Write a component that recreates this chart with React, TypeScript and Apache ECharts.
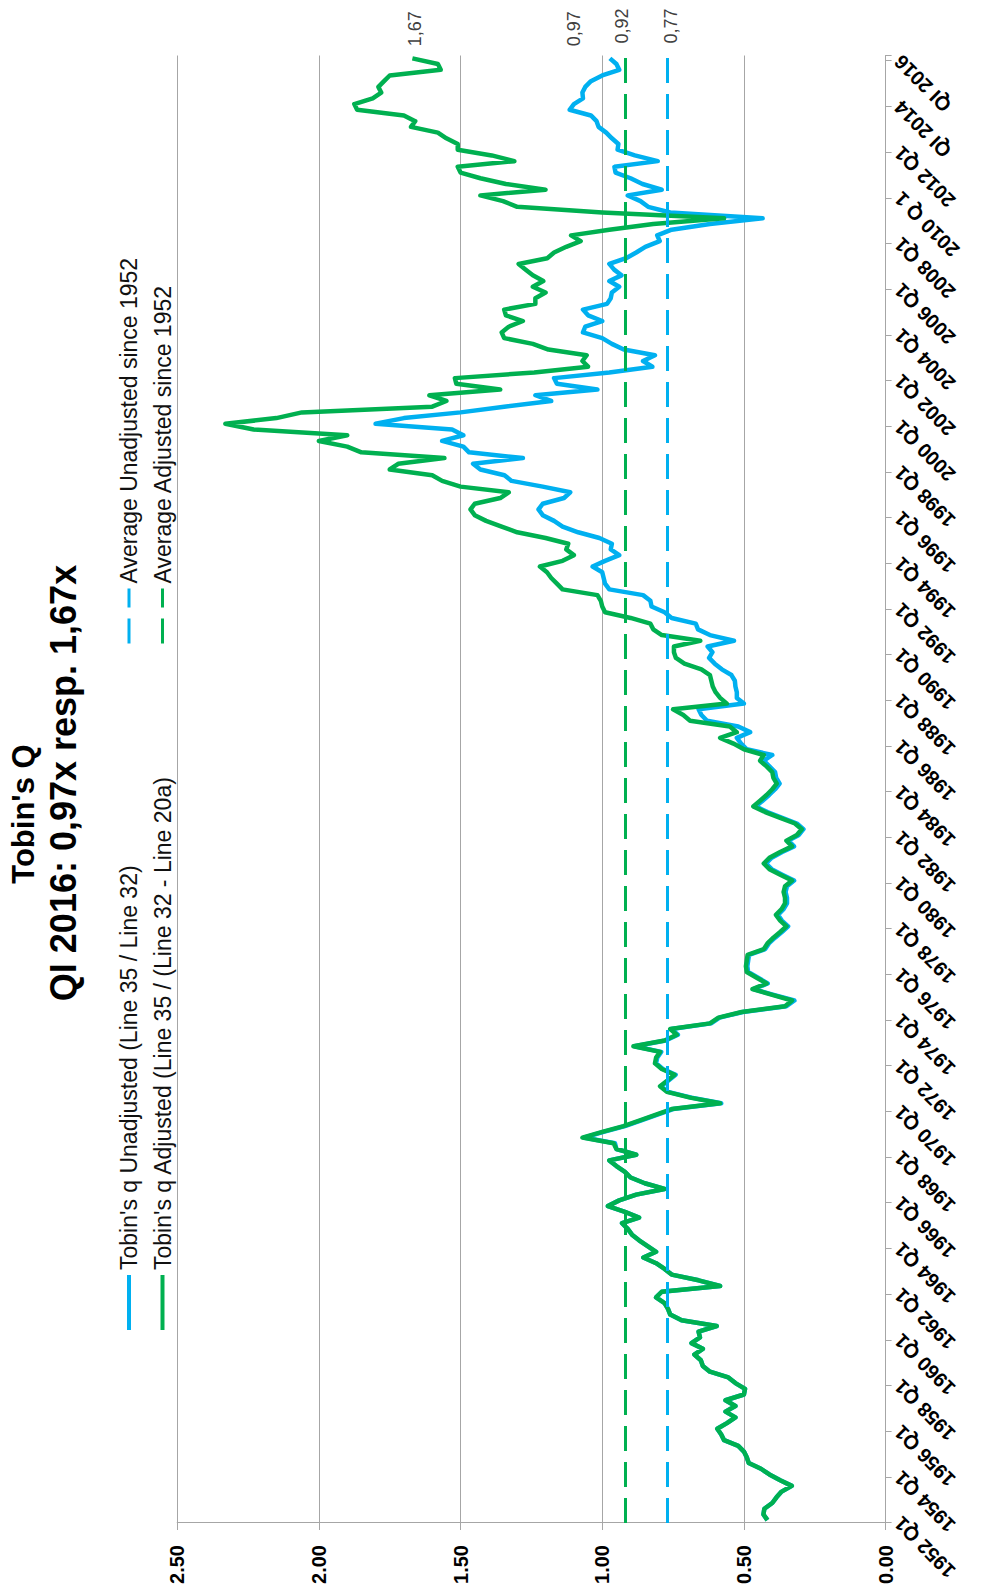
import React, { useEffect, useRef } from 'react';
import * as echarts from 'echarts';

const FONT = '"Liberation Sans", Arial, Helvetica, sans-serif';
const BLUE = '#00B0F0';
const GREEN = '#00B050';
const GRID_GRAY = '#A6A6A6';

const TITLE_1 = "Tobin's Q";
const TITLE_2 = 'QI 2016: 0,97x resp. 1,67x';

const NAME_UNADJ = "Tobin's q Unadjusted (Line 35 / Line 32)";
const NAME_ADJ = "Tobin's q Adjusted (Line 35 / (Line 32 - Line 20a)";
const NAME_AVG_UNADJ = 'Average Unadjusted since 1952';
const NAME_AVG_ADJ = 'Average Adjusted since 1952';

// Labels shown every 8th quarter (every two years)
const TICK_LABELS = [
  '1952 Q1', '1954 Q1', '1956 Q1', '1958 Q1', '1960 Q1', '1962 Q1', '1964 Q1', '1966 Q1',
  '1968 Q1', '1970 Q1', '1972 Q1', '1974 Q1', '1976 Q1', '1978 Q1', '1980 Q1', '1982 Q1',
  '1984 Q1', '1986 Q1', '1988 Q1', '1990 Q1', '1992 Q1', '1994 Q1', '1996 Q1', '1998 Q1',
  '2000 Q1', '2002 Q1', '2004 Q1', '2006 Q1', '2008 Q1', '2010 Q 1', '2012 Q1', 'QI 2014',
  'QI 2016',
];

// Quarterly categories 1952 Q1 .. 2016 Q1
const QUARTERS: string[] = [];
for (let y = 1952; y <= 2016; y++) {
  for (let q = 1; q <= 4; q++) {
    if (y === 2016 && q > 1) break;
    QUARTERS.push(`${y} Q${q}`);
  }
}

// Tobin's q Adjusted (green)
const ADJUSTED = [
  0.417, 0.431, 0.428, 0.40, 0.385, 0.367, 0.331, 0.372,
  0.41, 0.44, 0.483, 0.49, 0.50, 0.52, 0.57, 0.58,
  0.594, 0.56, 0.53, 0.565, 0.53, 0.565, 0.50, 0.496,
  0.53, 0.555, 0.62, 0.645, 0.652, 0.675, 0.645, 0.685,
  0.655, 0.66, 0.596, 0.72, 0.76, 0.768, 0.78, 0.81,
  0.79, 0.584, 0.66, 0.755, 0.78, 0.81, 0.855, 0.81,
  0.84, 0.87, 0.895, 0.91, 0.93, 0.87, 0.92, 0.98,
  0.94, 0.88, 0.78, 0.85, 0.90, 0.92, 0.95, 0.975,
  0.88, 0.95, 0.96, 1.07, 1.00, 0.925, 0.867, 0.81,
  0.755, 0.584, 0.69, 0.772, 0.796, 0.77, 0.745, 0.79,
  0.814, 0.81, 0.796, 0.89, 0.78, 0.737, 0.76, 0.62,
  0.59, 0.508, 0.355, 0.33, 0.40, 0.47, 0.42, 0.455,
  0.49, 0.493, 0.49, 0.487, 0.43, 0.417, 0.396, 0.372,
  0.35, 0.372, 0.387, 0.367, 0.355, 0.355, 0.36, 0.355,
  0.33, 0.37, 0.41, 0.43, 0.41, 0.372, 0.33, 0.35,
  0.313, 0.296, 0.32, 0.372, 0.425, 0.467, 0.443, 0.42,
  0.40, 0.384, 0.396, 0.40, 0.42, 0.443, 0.43, 0.50,
  0.537, 0.584, 0.525, 0.55, 0.69, 0.714, 0.75, 0.56,
  0.584, 0.60, 0.61, 0.615, 0.62, 0.65, 0.71, 0.74,
  0.747, 0.747, 0.654, 0.79, 0.82, 0.83, 0.90, 0.99,
  1.0, 1.005, 1.017, 1.14, 1.16, 1.18, 1.195, 1.22,
  1.14, 1.10, 1.127, 1.12, 1.20, 1.30, 1.355, 1.41,
  1.45, 1.465, 1.45, 1.36, 1.33, 1.50, 1.565, 1.60,
  1.75, 1.72, 1.557, 1.85, 1.90, 2.0, 1.90, 2.23,
  2.33, 2.15, 2.06, 1.60, 1.55, 1.61, 1.36, 1.515,
  1.52, 1.24, 1.05, 1.07, 1.055, 1.19, 1.245, 1.346,
  1.355, 1.33, 1.28, 1.34, 1.346, 1.236, 1.236, 1.20,
  1.245, 1.208, 1.245, 1.27, 1.295, 1.194, 1.17, 1.127,
  1.076, 1.11, 0.975, 0.82, 0.57, 1.0, 1.30, 1.35,
  1.43, 1.20, 1.34, 1.43, 1.50, 1.51, 1.31, 1.39,
  1.51, 1.51, 1.55, 1.58, 1.675, 1.66, 1.70, 1.865,
  1.875, 1.81, 1.78, 1.79, 1.77, 1.75, 1.57, 1.58,
  1.67,
];

// Tobin's q Unadjusted (blue)
const UNADJUSTED = [
  0.417, 0.431, 0.428, 0.40, 0.385, 0.367, 0.331, 0.372,
  0.41, 0.44, 0.483, 0.49, 0.50, 0.52, 0.57, 0.58,
  0.594, 0.56, 0.53, 0.565, 0.53, 0.565, 0.50, 0.496,
  0.53, 0.555, 0.62, 0.645, 0.652, 0.675, 0.645, 0.685,
  0.655, 0.66, 0.596, 0.72, 0.76, 0.768, 0.78, 0.81,
  0.79, 0.584, 0.66, 0.755, 0.78, 0.81, 0.855, 0.81,
  0.84, 0.87, 0.895, 0.91, 0.93, 0.87, 0.92, 0.98,
  0.94, 0.88, 0.78, 0.85, 0.90, 0.92, 0.95, 0.975,
  0.88, 0.95, 0.955, 1.065, 0.995, 0.92, 0.862, 0.805,
  0.75, 0.58, 0.685, 0.768, 0.792, 0.766, 0.741, 0.786,
  0.81, 0.806, 0.792, 0.886, 0.776, 0.733, 0.756, 0.616,
  0.586, 0.504, 0.35, 0.322, 0.395, 0.466, 0.416, 0.45,
  0.485, 0.488, 0.485, 0.482, 0.425, 0.412, 0.39, 0.366,
  0.344, 0.366, 0.38, 0.36, 0.348, 0.348, 0.353, 0.348,
  0.323, 0.363, 0.402, 0.422, 0.402, 0.365, 0.323, 0.343,
  0.306, 0.29, 0.313, 0.365, 0.417, 0.458, 0.434, 0.411,
  0.39, 0.374, 0.386, 0.39, 0.41, 0.43, 0.40, 0.49,
  0.51, 0.525, 0.478, 0.52, 0.63, 0.65, 0.66, 0.50,
  0.525, 0.525, 0.53, 0.532, 0.544, 0.578, 0.603, 0.623,
  0.611, 0.628, 0.535, 0.62, 0.662, 0.67, 0.755, 0.78,
  0.826, 0.83, 0.856, 0.975, 0.99, 0.995, 1.0, 1.034,
  0.99, 0.94, 0.97, 0.966, 1.01, 1.085, 1.14, 1.17,
  1.21, 1.225, 1.21, 1.135, 1.113, 1.21, 1.32, 1.345,
  1.43, 1.456, 1.28, 1.47, 1.49, 1.565, 1.49, 1.53,
  1.80, 1.70, 1.50, 1.346, 1.18, 1.236, 1.017, 1.16,
  1.17, 0.975, 0.823, 0.856, 0.814, 0.924, 0.966, 1.0,
  1.068, 1.06, 1.0, 1.05, 1.068, 0.983, 0.97, 0.966,
  0.94, 0.975, 0.932, 0.958, 0.975, 0.916, 0.88, 0.848,
  0.797, 0.806, 0.755, 0.62, 0.434, 0.76, 0.838, 0.865,
  0.91, 0.79, 0.858, 0.90, 0.953, 0.957, 0.804, 0.885,
  0.946, 0.943, 0.966, 0.986, 1.013, 1.02, 1.04, 1.115,
  1.10, 1.068, 1.07, 1.06, 1.04, 1.0, 0.94, 0.95,
  0.973,
];

const AVG_UNADJUSTED = 0.77;
const AVG_ADJUSTED = 0.92;

const Y_MIN = 0;
const Y_MAX = 2.5;
const Y_INTERVAL = 0.5;

const fmtComma = (v: number) => Number(v).toFixed(2).replace('.', ',');

function buildOption(): any {
  const valueLabel = {
    color: '#404040',
    fontSize: 18,
    fontFamily: FONT,
  };
  const endLabelBase = {
    show: true,
    distance: 12,
    ...valueLabel,
    formatter: (p: any) => fmtComma(Array.isArray(p.value) ? p.value[1] : p.value),
  };
  const legendText = { fontSize: 23, color: '#111', fontFamily: FONT };
  const legendBase = {
    orient: 'vertical',
    top: 117.5,
    padding: 0,
    itemWidth: 55,
    itemHeight: 14,
    itemGap: 10.5,
    selectedMode: false,
    textStyle: legendText,
    itemStyle: { opacity: 0 },
  };
  return {
    animation: false,
    backgroundColor: '#ffffff',
    textStyle: { fontFamily: FONT },
    title: [
      {
        text: TITLE_1,
        left: 779,
        textAlign: 'center',
        top: 8,
        padding: 0,
        textStyle: { fontSize: 31, fontWeight: 'bold', color: '#000', fontFamily: FONT },
      },
      {
        text: TITLE_2,
        left: 810,
        textAlign: 'center',
        top: 45,
        padding: 0,
        textStyle: { fontSize: 36, fontWeight: 'bold', color: '#000', fontFamily: FONT },
      },
    ],
    legend: [
      {
        ...legendBase,
        left: 261,
        data: [
          { name: NAME_UNADJ, lineStyle: { width: 4 } },
          { name: NAME_ADJ, lineStyle: { width: 4 } },
        ],
      },
      {
        ...legendBase,
        left: 948,
        data: [
          { name: NAME_AVG_UNADJ, lineStyle: { width: 3 } },
          { name: NAME_AVG_ADJ, lineStyle: { width: 3 } },
        ],
      },
    ],
    grid: { left: 70, right: 55.5, top: 177.2, bottom: 96.4, containLabel: false },
    xAxis: {
      type: 'category',
      data: QUARTERS,
      boundaryGap: true,
      axisLine: { show: true, lineStyle: { color: GRID_GRAY, width: 1 } },
      axisTick: { show: true, interval: 7, length: 6, lineStyle: { color: GRID_GRAY } },
      axisLabel: {
        interval: 7,
        rotate: 45,
        margin: 12,
        fontSize: 20,
        fontWeight: 'bold',
        color: '#000',
        fontFamily: FONT,
        formatter: (_v: string, idx: number) => TICK_LABELS[Math.round(idx / 8)] ?? '',
      },
      splitLine: { show: false },
    },
    yAxis: {
      type: 'value',
      min: Y_MIN,
      max: Y_MAX,
      interval: Y_INTERVAL,
      axisLine: { show: true, lineStyle: { color: GRID_GRAY, width: 1 } },
      axisTick: { show: true, length: 7, lineStyle: { color: GRID_GRAY } },
      axisLabel: {
        margin: 22,
        fontSize: 20,
        fontWeight: 'bold',
        color: '#000',
        fontFamily: FONT,
        formatter: (v: number) => v.toFixed(2),
      },
      splitLine: { show: true, lineStyle: { color: GRID_GRAY, width: 1 } },
    },
    series: [
      {
        name: NAME_UNADJ,
        type: 'line',
        data: UNADJUSTED,
        symbol: 'none',
        z: 2,
        lineStyle: { color: BLUE, width: 4.5, join: 'round' },
        itemStyle: { color: BLUE },
        emphasis: { disabled: true },
        endLabel: { ...endLabelBase, offset: [0, -36] },
      },
      {
        name: NAME_ADJ,
        type: 'line',
        data: ADJUSTED,
        symbol: 'none',
        z: 3,
        lineStyle: { color: GREEN, width: 4.5, join: 'round' },
        itemStyle: { color: GREEN },
        emphasis: { disabled: true },
        endLabel: { ...endLabelBase, offset: [0, 3] },
      },
      {
        name: NAME_AVG_UNADJ,
        type: 'line',
        data: [],
        symbol: 'none',
        z: 4,
        lineStyle: { color: BLUE, width: 3, type: [25, 11] },
        itemStyle: { color: BLUE },
        markLine: {
          silent: true,
          symbol: ['none', 'none'],
          lineStyle: { color: BLUE, width: 3, type: [25, 11] },
          label: {
            show: true,
            position: 'end',
            distance: 12,
            offset: [0, 4],
            ...valueLabel,
            formatter: (p: any) => fmtComma(p.value),
          },
          data: [{ yAxis: AVG_UNADJUSTED }],
        },
      },
      {
        name: NAME_AVG_ADJ,
        type: 'line',
        data: [],
        symbol: 'none',
        z: 4,
        lineStyle: { color: GREEN, width: 3, type: [25, 11] },
        itemStyle: { color: GREEN },
        markLine: {
          silent: true,
          symbol: ['none', 'none'],
          lineStyle: { color: GREEN, width: 3, type: [25, 11] },
          label: {
            show: true,
            position: 'end',
            distance: 12,
            offset: [0, -3],
            ...valueLabel,
            formatter: (p: any) => fmtComma(p.value),
          },
          data: [{ yAxis: AVG_ADJUSTED }],
        },
      },
    ],
  };
}

export default function App() {
  const ref = useRef<HTMLDivElement>(null);
  useEffect(() => {
    if (!ref.current) return;
    const chart = echarts.init(ref.current, null, { renderer: 'svg' });
    chart.setOption(buildOption());
    return () => chart.dispose();
  }, []);
  return (
    <div
      style={{
        position: 'absolute',
        left: 0,
        top: 0,
        width: 982,
        height: 1593,
        overflow: 'hidden',
        background: '#fff',
      }}
    >
      <div
        ref={ref}
        style={{
          position: 'absolute',
          left: 0,
          top: 0,
          width: 1593,
          height: 982,
          transformOrigin: '0 0',
          transform: 'translate(0px, 1593px) rotate(-90deg)',
        }}
      />
    </div>
  );
}
